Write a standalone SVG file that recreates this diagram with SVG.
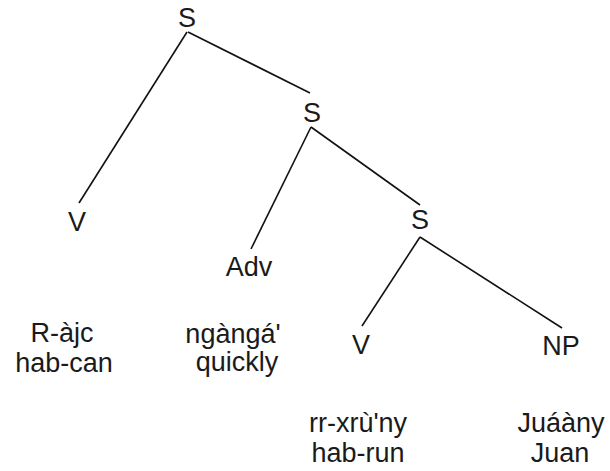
<svg xmlns="http://www.w3.org/2000/svg" width="610" height="471" viewBox="0 0 610 471">
<style>
text{font-family:"Liberation Sans",Arial,sans-serif;font-size:27px;fill:#1a1a1a;text-anchor:middle}
.e{stroke:#111;stroke-width:1.6;fill:none}
</style>
<rect width="610" height="471" fill="#fff"/>
<g id="connectors">
<line class="e" x1="187" y1="32" x2="79" y2="203"/>
<line class="e" x1="188" y1="32" x2="310" y2="93"/>
<line class="e" x1="311" y1="127" x2="251" y2="249"/>
<line class="e" x1="311" y1="127" x2="420" y2="205"/>
<line class="e" x1="420" y1="237" x2="362" y2="326"/>
<line class="e" x1="420" y1="237" x2="562" y2="328"/>
</g>
<g id="s1"><text x="187" y="27">S</text></g>
<g id="s2"><text x="312" y="122">S</text></g>
<g id="s3"><text x="420" y="229">S</text></g>
<g id="v1"><text x="77" y="231">V</text></g>
<g id="adv"><text x="249" y="276">Adv</text></g>
<g id="v2"><text x="361" y="354">V</text></g>
<g id="np"><text x="561" y="355">NP</text></g>
<g id="w1"><text x="62" y="342">R-àjc</text><text x="64" y="372">hab-can</text></g>
<g id="w2"><text x="233" y="343">ngàngá'</text><text x="237" y="371">quickly</text></g>
<g id="w3"><text x="358" y="432">rr-xrù'ny</text><text x="358" y="462">hab-run</text></g>
<g id="w4"><text x="561" y="432">Juáàny</text><text x="560" y="462">Juan</text></g>
</svg>
